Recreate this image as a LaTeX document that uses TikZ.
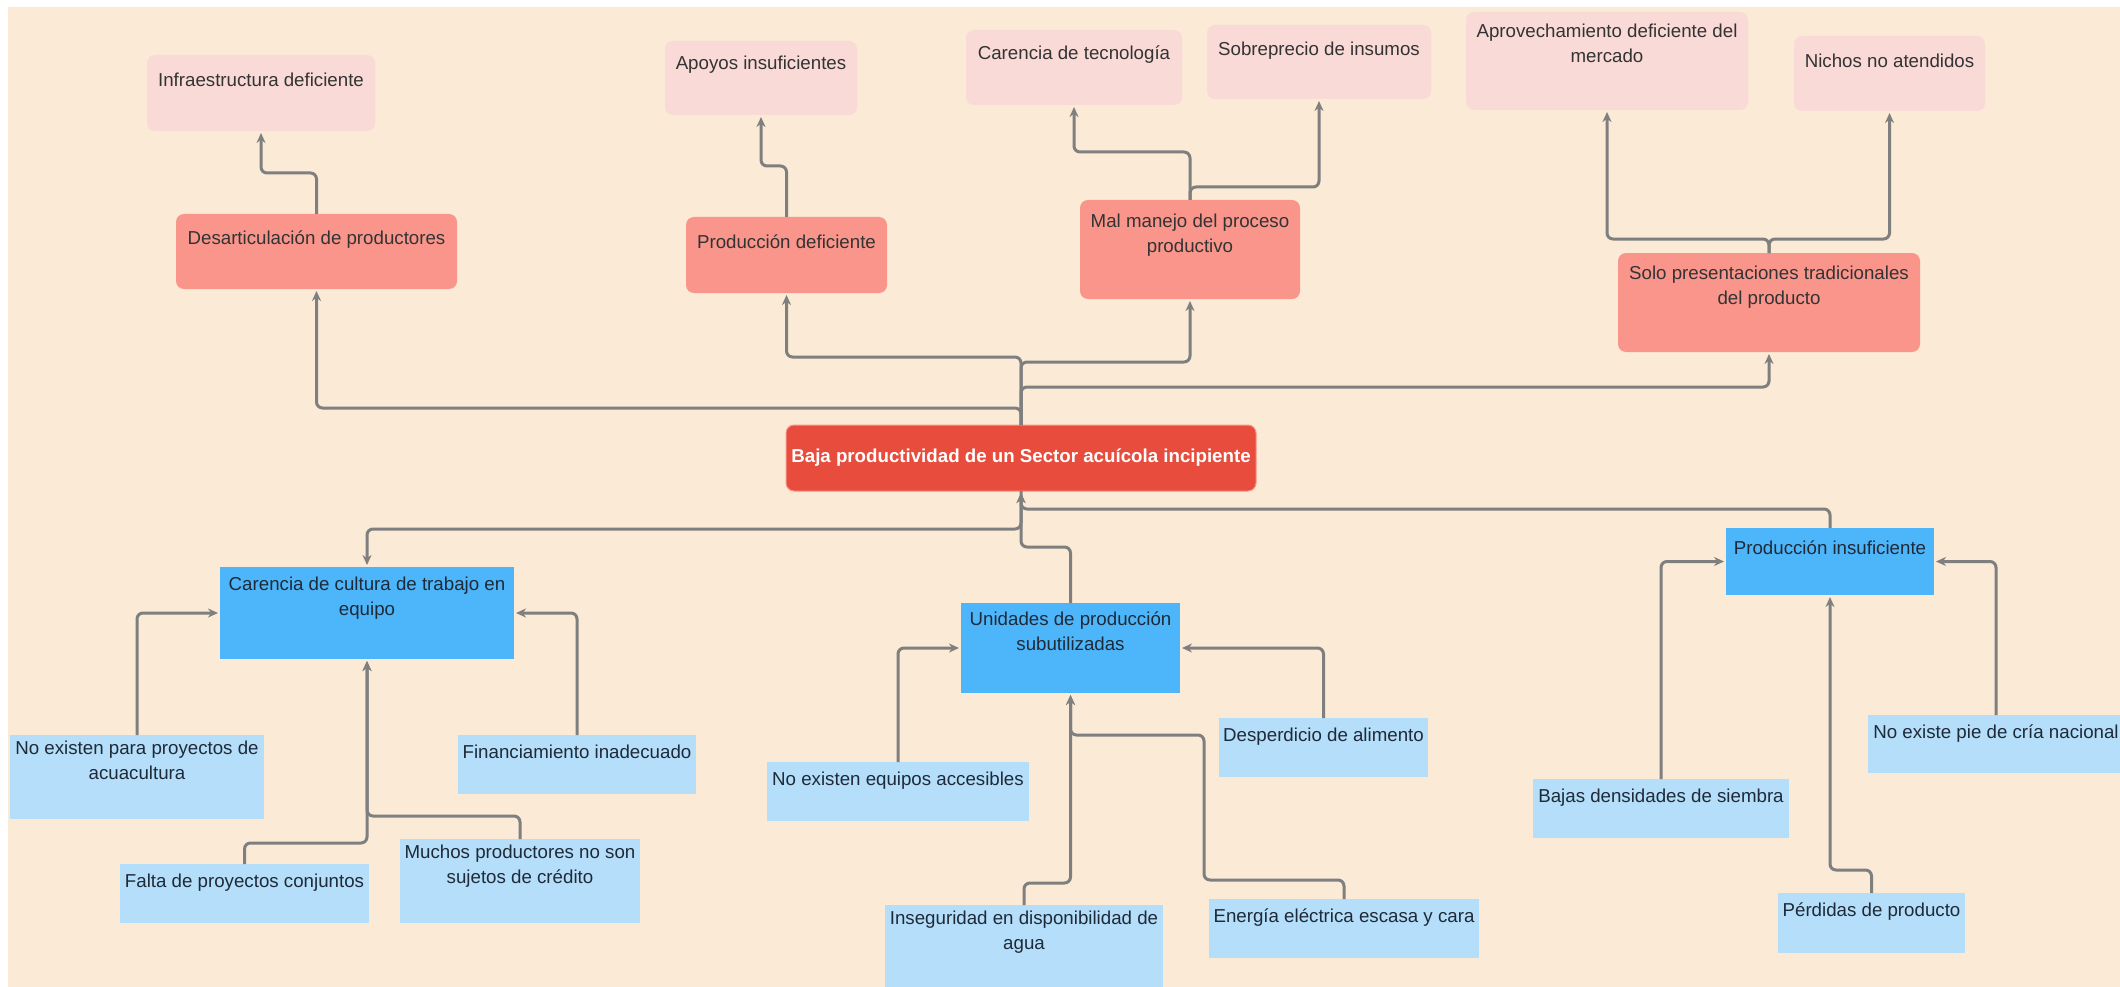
\documentclass[tikz,border=0pt]{standalone}
\usepackage{fontspec}
\setmainfont{Liberation Sans}
\usetikzlibrary{arrows.meta}
\definecolor{bgc}{HTML}{FAEAD6}
\definecolor{pinkc}{HTML}{F9DAD7}
\definecolor{salc}{HTML}{F9958B}
\definecolor{redc}{HTML}{E74C3C}
\definecolor{bluec}{HTML}{4DB6FA}
\definecolor{lbluec}{HTML}{B4DEF9}
\definecolor{linec}{HTML}{7F7F7F}
\definecolor{txtc}{HTML}{333333}
\definecolor{txtb}{HTML}{1F2A38}
% \bx{style}{name}{x1}{y1}{x2}{y2}{label offset}{text}
\newcommand\bx[8]{%
  \node[#1, minimum width={#5-#3}, minimum height={#6-#4}] (#2) at ({(#3+#5)/2},{(#4+#6)/2}) {};
  \node[lbl, #1text] (#2-t) at ({(#3+#5)/2},{#4+#7}) {#8};}
\begin{document}
\begin{tikzpicture}[x=1pt,y=-1pt,
  box/.style={inner sep=0pt, outer sep=0pt, draw=none},
  pinkbox/.style={box, fill=pinkc, rounded corners=8pt},
  salbox/.style={box, fill=salc, rounded corners=8pt},
  bluebox/.style={box, fill=bluec},
  lbluebox/.style={box, fill=lbluec},
  pinkboxtext/.style={text=txtc},
  salboxtext/.style={text=txtc},
  blueboxtext/.style={text=txtb},
  lblueboxtext/.style={text=txtb},
  lbl/.style={font=\fontsize{18.7}{24.5}\selectfont, align=center, inner sep=0pt, anchor=north, execute at begin node=\strut},
  conn/.style={draw=linec, line width=3pt, rounded corners=6pt, shorten >=2pt, -{Stealth[length=10pt,width=9pt]}}]
\useasboundingbox (0,0) rectangle (2120,987);
\fill[white] (0,0) rectangle (2120,987);
\fill[bgc] (8,7) rectangle (2120,987);

% top effects
\bx{pinkbox}{infra}{147}{55}{375}{131}{14}{Infraestructura deficiente}
\bx{pinkbox}{apoyos}{665}{41}{857}{115}{11}{Apoyos insuficientes}
\bx{pinkbox}{ctec}{966}{30}{1182}{105}{12}{Carencia de tecnología}
\bx{pinkbox}{sobre}{1207}{25}{1431}{99}{13}{Sobreprecio de insumos}
\bx{pinkbox}{aprov}{1466}{12}{1748}{110}{12}{Aprovechamiento deficiente del\\mercado}
\bx{pinkbox}{nichos}{1794}{36}{1985}{111}{14}{Nichos no atendidos}

% middle effects
\bx{salbox}{desart}{176}{214}{457}{289}{13}{Desarticulación de productores}
\bx{salbox}{proddef}{686}{217}{887}{293}{14}{Producción deficiente}
\bx{salbox}{mal}{1080}{200}{1300}{299}{14}{Mal manejo del proceso\\productivo}
\bx{salbox}{solo}{1618}{253}{1920}{352}{13}{Solo presentaciones tradicionales\\del producto}

% central problem
\node[box, fill=redc, draw=salc, line width=1pt, rounded corners=8pt, minimum width=470pt, minimum height=66pt,
      font=\fontsize{18.7}{24.5}\selectfont\bfseries, text=white] (central) at (1021,458)
      {Baja productividad de un Sector acuícola incipiente};

% main causes
\bx{bluebox}{carcult}{220}{567}{514}{659}{10}{Carencia de cultura de trabajo en\\equipo}
\bx{bluebox}{unidades}{961}{603}{1180}{693}{9}{Unidades de producción\\subutilizadas}
\bx{bluebox}{prodins}{1726}{528}{1934}{595}{9}{Producción insuficiente}

% secondary causes
\bx{lbluebox}{noexproy}{10}{735}{264}{819}{6}{No existen para proyectos de\\acuacultura}
\bx{lbluebox}{financ}{458}{735}{696}{794}{6}{Financiamiento inadecuado}
\bx{lbluebox}{falta}{120}{864}{369}{923}{6}{Falta de proyectos conjuntos}
\bx{lbluebox}{muchos}{400}{839}{640}{923}{6}{Muchos productores no son\\sujetos de crédito}
\bx{lbluebox}{noexeq}{767}{762}{1029}{821}{6}{No existen equipos accesibles}
\bx{lbluebox}{insegur}{885}{905}{1163}{990}{6}{Inseguridad en disponibilidad de\\agua}
\bx{lbluebox}{desper}{1219}{718}{1428}{777}{6}{Desperdicio de alimento}
\bx{lbluebox}{energia}{1209}{899}{1479}{958}{6}{Energía eléctrica escasa y cara}
\bx{lbluebox}{bajas}{1533}{779}{1789}{838}{6}{Bajas densidades de siembra}
\bx{lbluebox}{noexpie}{1868}{715}{2124}{773}{6}{No existe pie de cría nacional}
\bx{lbluebox}{perdidas}{1778}{893}{1965}{953}{6}{Pérdidas de producto}

% connectors, upper part
\draw[conn] (desart.north) -- ++(0,-41) -| (infra.south);
\draw[conn] (proddef.north) -- ++(0,-51) -| (apoyos.south);
\draw[conn] (mal.north) -- ++(0,-48) -| (ctec.south);
\draw[conn] (mal.north) -- ++(0,-13) -| (sobre.south);
\draw[conn] (solo.north) -- ++(0,-14) -| (aprov.south);
\draw[conn] (solo.north) -- ++(0,-14) -| (nichos.south);
\draw[conn] (central.north) -- ++(0,-68) -| (proddef.south);
\draw[conn] (central.north) -- ++(0,-63) -| (mal.south);
\draw[conn] (central.north) -- ++(0,-38) -| (solo.south);
\draw[conn] (central.north) -- ++(0,-17) -| (desart.south);

% connectors, lower part
\draw[conn] (prodins.north) -- ++(0,-19) -| (central.south);
\draw[conn] (central.south) -- ++(0,38) -| (carcult.north);
\draw[conn] (unidades.north) -- ++(0,-56) -| (central.south);
\draw[conn] (noexproy.north) |- (carcult.west);
\draw[conn] (financ.north) |- (carcult.east);
\draw[conn] (falta.north) -- ++(0,-21) -| (carcult.south);
\draw[conn] (muchos.north) -- ++(0,-23) -| (carcult.south);
\draw[conn] (noexeq.north) |- (unidades.west);
\draw[conn] (insegur.north) -- ++(0,-22) -| (unidades.south);
\draw[conn] (desper.north) |- (unidades.east);
\draw[conn] (energia.north) -- ++(0,-19) -- ++(-140,0) -- ++(0,-145) -| (unidades.south);
\draw[conn] (bajas.north) |- (prodins.west);
\draw[conn] (noexpie.north) |- (prodins.east);
\draw[conn] (perdidas.north) -- ++(0,-23) -| (prodins.south);
\end{tikzpicture}
\end{document}
